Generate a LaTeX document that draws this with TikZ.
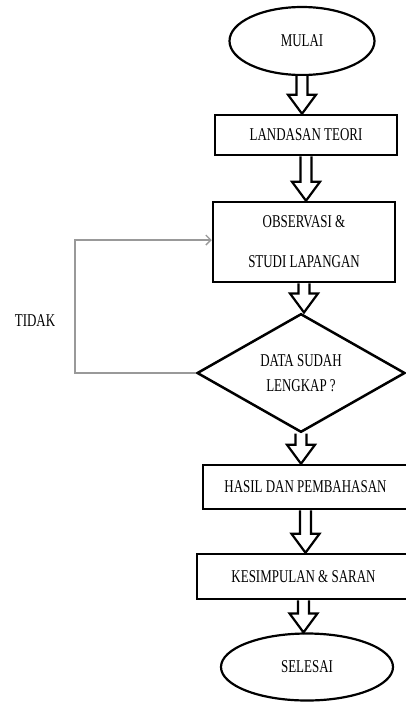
\documentclass[tikz,border=0pt]{standalone}
\usepackage{fontspec}
\setmainfont{Liberation Serif}[FakeStretch=0.72]
\usetikzlibrary{shapes.geometric,arrows.meta,calc}
\newcommand\blockarr[2]{%
  \draw[blk] let \p1=(#1.south), \p2=(#2.north) in
    (\x1-5.5pt,\y1) -- (\x1-5.5pt,\y2+19pt) -- (\x1-14pt,\y2+19pt) -- (\x1,\y2)
    -- (\x1+14pt,\y2+19pt) -- (\x1+5.5pt,\y2+19pt) -- (\x1+5.5pt,\y1);}
\begin{document}
\begin{tikzpicture}[x=1pt,y=-1pt,
  every node/.style={font=\fontsize{18}{22}\selectfont},
  term/.style={draw,line width=2.2pt,ellipse,inner sep=0pt},
  box/.style={draw,line width=2.5pt,rectangle,inner sep=0pt},
  dec/.style={draw,line width=2.5pt,diamond,inner sep=0pt,align=center},
  blk/.style={draw,line width=2.2pt,fill=white,line join=miter},
  fb/.style={draw=gray!80,line width=1.4pt,-{Straight Barb[length=5pt,width=10pt]}}]
\useasboundingbox (0,0) rectangle (405,702);
\node[term,minimum width=145pt,minimum height=68pt] (mulai) at (302,41) {MULAI};
\node[box,minimum width=182pt,minimum height=40pt] (teori) at (306,135) {LANDASAN TEORI};
\node[box,minimum width=182pt,minimum height=80pt,align=center] (obs) at (304,242) {OBSERVASI \&\\[18pt]STUDI LAPANGAN};
\node[dec,minimum width=208pt,minimum height=112pt] (data) at (301,373) {DATA SUDAH\\[3pt]LENGKAP ?};
\node[box,minimum width=205pt,minimum height=44pt] (hasil) at (305.5,487) {HASIL DAN PEMBAHASAN};
\node[box,minimum width=213pt,minimum height=45pt] (simp) at (303.5,576.5) {KESIMPULAN \& SARAN};
\node[term,minimum width=172pt,minimum height=67pt] (selesai) at (307,667) {SELESAI};
\node (tidak) at (35,321) {TIDAK};
\coordinate (c2) at (75,240);
\draw[fb] (data.west) -| (c2) -- (obs.west |- c2);
\blockarr{mulai}{teori}
\blockarr{teori}{obs}
\blockarr{obs}{data}
\blockarr{data}{hasil}
\blockarr{hasil}{simp}
\blockarr{simp}{selesai}
\end{tikzpicture}
\end{document}
